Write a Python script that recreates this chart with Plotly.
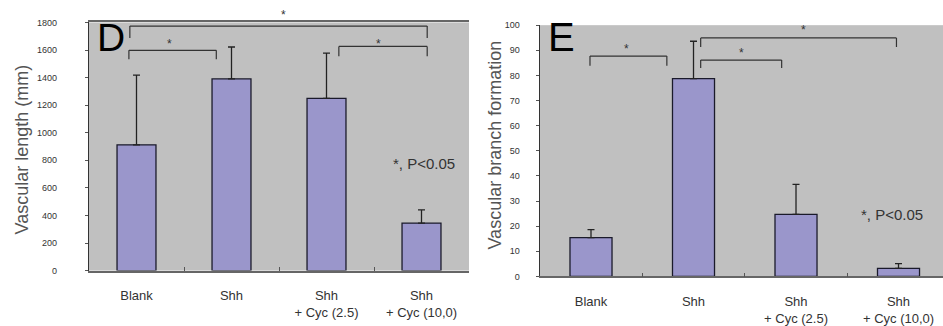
import plotly.graph_objects as go

# ---- data ----
categories = ["Blank", "Shh", "Shh<br>+ Cyc (2.5)", "Shh<br>+ Cyc (10,0)"]
length_mean = [912, 1390, 1249, 345]
length_err = [506, 232, 328, 96]
branch_mean = [15.4, 78.7, 24.7, 3.2]
branch_err = [3.2, 14.9, 11.9, 1.9]
length_ticks = [0, 200, 400, 600, 800, 1000, 1200, 1400, 1600, 1800]
branch_ticks = [0, 10, 20, 30, 40, 50, 60, 70, 80, 90, 100]

# significance brackets: (x_left, x_right, y_top, y_leg, star_x, star_y)
length_brackets = [(-0.07, 3.06, 1774, 1688, 1.55, 1877),
                   (-0.08, 0.84, 1598, 1533, 0.35, 1666),
                   (2.13, 3.06, 1626, 1554, 2.55, 1666)]
branch_brackets = [(-0.01, 0.74, 87.7, 83.8, 0.35, 91.9),
                   (1.07, 1.86, 86.1, 82.9, 1.47, 90.3),
                   (1.07, 2.98, 94.9, 91.3, 2.07, 99.3)]

W, H = 943, 326
BAR = "#9a96cb"
BG = "#c0c0c0"
FONT = "Arial, Liberation Sans, sans-serif"

fig = go.Figure()

def add_bars(mean, err, xa, ya):
    fig.add_trace(go.Bar(
        x=categories, y=mean, xaxis=xa, yaxis=ya, width=0.41,
        marker=dict(color=BAR, line=dict(color="#1a1a2a", width=1.3)),
        error_y=dict(type="data", symmetric=False, array=err,
                     arrayminus=[0] * len(err), color="#222", thickness=1.3, width=3.5),
        showlegend=False, hoverinfo="skip"))

add_bars(length_mean, length_err, "x", "y")
add_bars(branch_mean, branch_err, "x2", "y2")

def px_x(p):
    return p / W

def px_y(p):
    return 1 - p / H

D_dom = [px_y(274), px_y(18)]
E_dom = [px_y(280), px_y(20.8)]
D_rng = [0, 1800]
E_rng = [0, 100]

common_x = dict(type="category", tickson="boundaries", ticks="inside", ticklen=4,
                tickcolor="#555", showline=True, linecolor="#666", linewidth=1.5,
                showgrid=False, zeroline=False, ticklabelstandoff=12,
                tickfont=dict(family=FONT, size=13, color="#333"), fixedrange=True)

def y_axis(dom, rng, vals, gap):
    return dict(domain=dom, range=rng, tickvals=vals, showgrid=False, zeroline=False,
                showline=True, linecolor="#333", linewidth=1.3, ticks="outside",
                ticklen=gap, tickcolor="rgba(0,0,0,0)",
                minor=dict(tickmode="array", tickvals=vals, ticks="outside", ticklen=3,
                           tickcolor="#555", showgrid=False),
                tickfont=dict(family=FONT, size=9, color="#333"))

fig.update_layout(
    width=W, height=H, margin=dict(l=0, r=0, t=0, b=0),
    paper_bgcolor="white", plot_bgcolor=BG,
    xaxis=dict(domain=[px_x(89), px_x(469)], anchor="y", range=[-0.5, 3.5],
               mirror=True, **common_x),
    yaxis=dict(anchor="x", **y_axis(D_dom, D_rng, length_ticks, 29)),
    xaxis2=dict(domain=[px_x(539.75), 1.0], anchor="y2", range=[-0.5, 3.434], **common_x),
    yaxis2=dict(anchor="x2", **y_axis(E_dom, E_rng, branch_ticks, 17)),
)

def add_brackets(brackets, xr, yr, dom, rng):
    for (xl, xr_, yt, yl, sx, sy) in brackets:
        ln = dict(color="#333", width=1.2)
        fig.add_shape(type="line", xref=xr, yref=yr, x0=xl, x1=xr_, y0=yt, y1=yt, line=ln)
        fig.add_shape(type="line", xref=xr, yref=yr, x0=xl, x1=xl, y0=yt, y1=yl, line=ln)
        fig.add_shape(type="line", xref=xr, yref=yr, x0=xr_, x1=xr_, y0=yt, y1=yl, line=ln)
        # star placed in paper coords (derived from the axis value) so it may sit above the plot
        yp = dom[0] + (sy - rng[0]) / (rng[1] - rng[0]) * (dom[1] - dom[0])
        fig.add_annotation(xref=xr, yref="paper", x=sx, y=yp, text="*", showarrow=False,
                           xanchor="center", yanchor="middle", yshift=-3,
                           font=dict(family=FONT, size=12, color="#333"))

add_brackets(length_brackets, "x", "y", D_dom, D_rng)
add_brackets(branch_brackets, "x2", "y2", E_dom, E_rng)

# panel letters
fig.add_annotation(xref="paper", yref="paper", x=px_x(95), y=px_y(38.5), xanchor="left",
                   yanchor="middle", text="D", showarrow=False, yshift=5,
                   font=dict(family=FONT, size=39, color="black"))
fig.add_annotation(xref="paper", yref="paper", x=px_x(546), y=px_y(38.5), xanchor="left",
                   yanchor="middle", text="E", showarrow=False, yshift=5,
                   font=dict(family=FONT, size=40, color="black"))

# p-value notes
for xp, yp in [(424, 163), (892, 215.7)]:
    fig.add_annotation(xref="paper", yref="paper", x=px_x(xp), y=px_y(yp), text="*, P<0.05",
                       xanchor="center", yanchor="middle",
                       showarrow=False, font=dict(family=FONT, size=15, color="#333"))

# y-axis titles
fig.add_annotation(xref="paper", yref="paper", x=px_x(22), y=px_y(149), text="Vascular length (mm)",
                   xanchor="center", yanchor="middle",
                   textangle=-90, showarrow=False, font=dict(family=FONT, size=18, color="#555"))
fig.add_annotation(xref="paper", yref="paper", x=px_x(495), y=px_y(145), text="Vascular branch formation",
                   xanchor="center", yanchor="middle",
                   textangle=-90, showarrow=False, font=dict(family=FONT, size=18, color="#555"))

fig.write_html("out.html")
